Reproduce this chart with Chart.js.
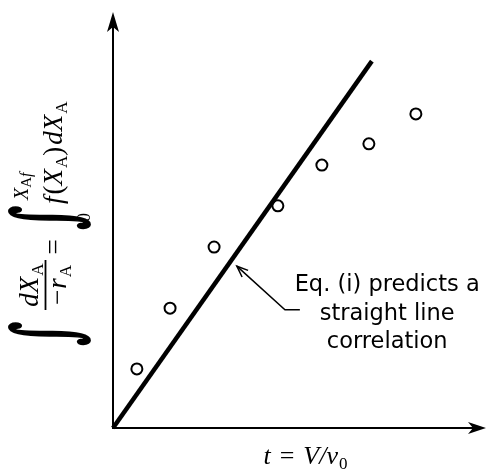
<!DOCTYPE html>
<html><head><meta charset="utf-8">
<script src="https://cdn.jsdelivr.net/npm/chart.js@4.4.0/dist/chart.umd.min.js"></script>
<style>html,body{margin:0;padding:0;background:#fff;}canvas{display:block;}</style>
</head><body>
<canvas id="c" width="487" height="475"></canvas>
<script>
// ---- data (arbitrary units) ----
const spaceTime = [0.64, 1.53, 2.71, 4.42, 5.60, 6.86, 8.12];
const integralValues = [1.42, 2.88, 4.35, 5.34, 6.32, 6.83, 7.55];
const predictedLineT = [0, 6.94];
const predictedLineY = [0, 8.82];
const axisMaxX = 10;
const axisMaxY = 10;
const annotationLines = ["Eq. (i) predicts a", "straight line", "correlation"];
const annotationTextX = 7.35;
const annotationTextY = [3.29, 2.60, 1.92];
const annotationArrowX = [3.32, 4.61, 5.01];
const annotationArrowY = [3.89, 2.84, 2.84];

const SERIF = "'Liberation Serif', 'DejaVu Serif', serif";
const SANS = "'DejaVu Sans', 'Open Sans', sans-serif";

function runWidth(ctx, parts) {
  let w = 0;
  for (const p of parts) { ctx.font = p.f; w += ctx.measureText(p.t).width + (p.gap || 0); }
  return w;
}
function drawRun(ctx, parts, u, v) {
  for (const p of parts) {
    ctx.font = p.f;
    ctx.fillText(p.t, u, v + (p.dv || 0));
    u += ctx.measureText(p.t).width + (p.gap || 0);
  }
  return u;
}
function fitGlyph(ctx, t, font, u0, u1, v0, v1, thick) {
  ctx.font = font;
  const m = ctx.measureText(t);
  const gw = m.actualBoundingBoxLeft + m.actualBoundingBoxRight;
  const gh = m.actualBoundingBoxAscent + m.actualBoundingBoxDescent;
  const sx = (u1 - u0) / gw, sy = (v1 - v0) / gh;
  ctx.save();
  ctx.translate(u0, v0);
  ctx.scale(sx, sy);
  ctx.fillText(t, m.actualBoundingBoxLeft, m.actualBoundingBoxAscent);
  ctx.lineWidth = thick / sx;
  ctx.lineJoin = 'round';
  ctx.strokeText(t, m.actualBoundingBoxLeft, m.actualBoundingBoxAscent);
  ctx.restore();
}

const decorPlugin = {
  id: 'decor',
  afterDraw(chart) {
    const ctx = chart.ctx;
    const xs = chart.scales.x, ys = chart.scales.y;
    const ox = xs.getPixelForValue(0), oy = ys.getPixelForValue(0);
    const xe = xs.getPixelForValue(axisMaxX), ye = ys.getPixelForValue(axisMaxY);
    ctx.save();
    ctx.strokeStyle = '#000'; ctx.fillStyle = '#000';
    // axes
    ctx.lineWidth = 2;
    ctx.beginPath(); ctx.moveTo(ox, oy + 1); ctx.lineTo(ox, ye + 12); ctx.stroke();
    ctx.beginPath(); ctx.moveTo(ox - 1, oy); ctx.lineTo(xe - 10, oy); ctx.stroke();
    ctx.beginPath();
    ctx.moveTo(ox, ye); ctx.lineTo(ox - 6, ye + 20); ctx.lineTo(ox, ye + 15); ctx.lineTo(ox + 6, ye + 20);
    ctx.closePath(); ctx.fill();
    ctx.beginPath();
    ctx.moveTo(xe, oy); ctx.lineTo(xe - 18, oy - 6); ctx.lineTo(xe - 13, oy); ctx.lineTo(xe - 18, oy + 6);
    ctx.closePath(); ctx.fill();

    // annotation leader with open arrow head
    const ax = annotationArrowX.map(v => xs.getPixelForValue(v));
    const ay = annotationArrowY.map(v => ys.getPixelForValue(v));
    ctx.lineWidth = 1.5;
    ctx.beginPath();
    ctx.moveTo(ax[2], ay[2]); ctx.lineTo(ax[1], ay[1]); ctx.lineTo(ax[0], ay[0]);
    ctx.stroke();
    const ang = Math.atan2(ay[1] - ay[0], ax[1] - ax[0]);
    ctx.beginPath();
    ctx.moveTo(ax[0] + 12 * Math.cos(ang + 0.38), ay[0] + 12 * Math.sin(ang + 0.38));
    ctx.lineTo(ax[0], ay[0]);
    ctx.lineTo(ax[0] + 12 * Math.cos(ang - 0.38), ay[0] + 12 * Math.sin(ang - 0.38));
    ctx.stroke();

    // annotation text
    ctx.font = "22.5px " + SANS;
    ctx.textAlign = 'center'; ctx.textBaseline = 'alphabetic';
    const tx = xs.getPixelForValue(annotationTextX);
    annotationLines.forEach((s, i) => ctx.fillText(s, tx, ys.getPixelForValue(annotationTextY[i])));

    // x-axis title: t = V/v0
    ctx.textAlign = 'left';
    const it = "italic 26px " + SERIF, up = "26px " + SERIF, sub = "17px " + SERIF;
    const xParts = [
      {t: 't', f: it, gap: 9}, {t: '=', f: up, gap: 9},
      {t: 'V/v', f: it, gap: 1}, {t: '0', f: sub, dv: 5}
    ];
    const xw = runWidth(ctx, xParts);
    const xc = (chart.chartArea.left + chart.chartArea.right) / 2 + 6;
    drawRun(ctx, xParts, xc - xw / 2, oy + 36);

    // y-axis title (rotated): ∫ dX_A/(-r_A) = ∫_0^{X_Af} f(X_A) dX_A
    ctx.save();
    ctx.translate(0, 350);
    ctx.rotate(-Math.PI / 2);
    const mIt = "italic 27px " + SERIF, mUp = "27px " + SERIF, mSub = "17px " + SERIF;
    const INT = "80px 'DejaVu Serif', serif";
    fitGlyph(ctx, '\u222B', INT, 5, 27, 9, 90, 1.6);
    const num = [{t: 'd', f: mIt}, {t: 'X', f: mIt, gap: 1}, {t: 'A', f: mSub, dv: 5}];
    const den = [{t: '\u2212', f: mUp, gap: 1}, {t: 'r', f: mIt, gap: 1}, {t: 'A', f: mSub, dv: 5}];
    const fc = 65;
    drawRun(ctx, num, fc - runWidth(ctx, num) / 2, 38);
    drawRun(ctx, den, fc - runWidth(ctx, den) / 2, 66);
    ctx.lineWidth = 1.8;
    ctx.beginPath(); ctx.moveTo(40, 45.5); ctx.lineTo(90, 45.5); ctx.stroke();
    const eq = [{t: '=', f: mUp}];
    drawRun(ctx, eq, 103 - runWidth(ctx, eq) / 2, 62);
    fitGlyph(ctx, '\u222B', INT, 121, 143, 9, 90, 1.6);
    drawRun(ctx, [{t: 'X', f: "italic 20px " + SERIF}, {t: 'A', f: "15px " + SERIF, dv: 3}, {t: 'f', f: "italic 16px " + SERIF, dv: 3}], 150, 28);
    drawRun(ctx, [{t: '0', f: "18px " + SERIF}], 128, 90);
    drawRun(ctx, [
      {t: 'f', f: mIt, gap: 2}, {t: '(', f: mUp}, {t: 'X', f: mIt, gap: 1}, {t: 'A', f: mSub, dv: 5},
      {t: ')', f: mUp, gap: 2}, {t: 'd', f: mIt}, {t: 'X', f: mIt, gap: 1}, {t: 'A', f: mSub, dv: 5}
    ], 146, 62);
    ctx.restore();
    ctx.restore();
  }
};

new Chart(document.getElementById('c'), {
  type: 'scatter',
  data: {
    datasets: [
      {
        label: 'Eq. (i) prediction',
        data: predictedLineT.map((t, i) => ({x: t, y: predictedLineY[i]})),
        showLine: true, borderColor: '#000', borderWidth: 4.5, pointRadius: 0,
        borderCapStyle: 'butt', clip: false
      },
      {
        label: 'data',
        data: spaceTime.map((t, i) => ({x: t, y: integralValues[i]})),
        pointRadius: 5.5, pointBorderWidth: 2, pointBackgroundColor: '#fff',
        pointBorderColor: '#000', showLine: false, clip: false
      }
    ]
  },
  options: {
    responsive: false, animation: false, devicePixelRatio: 1,
    layout: {autoPadding: false, padding: {left: 113, right: 1, top: 12, bottom: 47}},
    plugins: {legend: {display: false}, tooltip: {enabled: false}},
    scales: {
      x: {type: 'linear', min: 0, max: axisMaxX, display: false},
      y: {type: 'linear', min: 0, max: axisMaxY, display: false}
    }
  },
  plugins: [decorPlugin]
});
</script>
</body></html>
